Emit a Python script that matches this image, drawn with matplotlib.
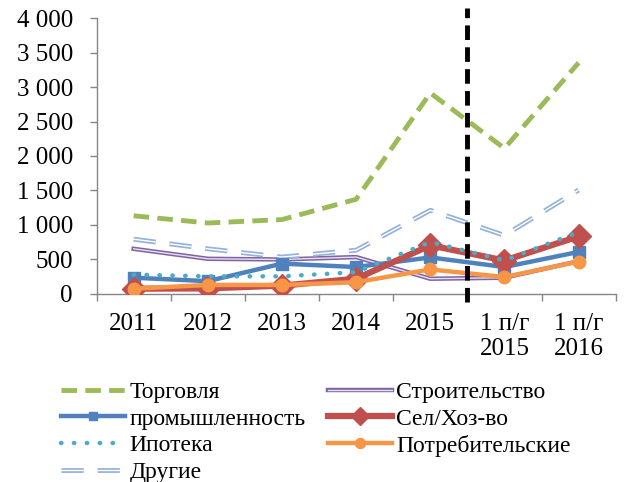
import matplotlib
matplotlib.use("Agg")
import matplotlib.pyplot as plt
import matplotlib.patheffects as pe
from matplotlib.ticker import FixedLocator, FuncFormatter

plt.rcParams['font.family'] = ['Liberation Serif', 'DejaVu Serif']

categories = ['2011', '2012', '2013', '2014', '2015', '1 п/г\n2015', '1 п/г\n2016']
torgovlya = [1130, 1025, 1075, 1370, 2915, 2110, 3355]
stroitelstvo = [650, 505, 495, 530, 215, 230, 470]
promyshlennost = [230, 180, 435, 385, 525, 385, 605]
selhoz = [70, 75, 115, 215, 700, 480, 830]
ipoteka = [275, 250, 250, 310, 750, 480, 895]
potreb = [70, 125, 125, 165, 350, 240, 465]
drugie = [790, 650, 530, 630, 1210, 845, 1505]
y_ticks = [0, 500, 1000, 1500, 2000, 2500, 3000, 3500, 4000]
divider_pos = 4.5

fig = plt.figure(figsize=(6.27, 4.82), dpi=100)
ax = fig.add_axes([0.154, 0.391, 0.828, 0.571])
x = list(range(len(categories)))

ax.plot(x, torgovlya, color='#9BBB59', lw=3.5, linestyle=(0, (3.2, 1.7)),
        label='Торговля', zorder=3)
ax.plot(x, stroitelstvo, color='#E6DFEE', lw=1.0, label='Строительство', zorder=3,
        path_effects=[pe.Stroke(linewidth=3.2, foreground='#8064A2'), pe.Normal()])
ax.plot(x, promyshlennost, color='#4F81BD', lw=3.2, marker='s', markersize=8,
        label='промышленность', zorder=4)
ax.plot(x, selhoz, color='#C0504D', lw=4.5, marker='D', markersize=12,
        label='Сел/Хоз-во', zorder=5)
ax.plot(x, ipoteka, color='#4BACC6', lw=3.2, linestyle=(0, (0.1, 2.8)),
        dash_capstyle='round', label='Ипотека', zorder=6)
ax.plot(x, potreb, color='#F79646', lw=3.2, marker='o', markersize=9,
        label='Потребительские', zorder=7)
ax.plot(x, drugie, color='#FFFFFF', lw=1.0, linestyle=(0, (16, 10)),
        label='Другие', zorder=3,
        path_effects=[pe.Stroke(linewidth=3.5, foreground='#95B3D7'), pe.Normal()])

ax.plot([divider_pos, divider_pos], [-120, 4150], color='black', lw=3.5,
        linestyle=(0, (3, 1.5)), clip_on=False, zorder=8)

ax.set_xlim(-0.5, len(categories) - 0.5)
ax.set_ylim(0, 4000)
ax.yaxis.set_major_locator(FixedLocator(y_ticks))
ax.yaxis.set_major_formatter(FuncFormatter(lambda v, p: f"{int(v):,}".replace(',', ' ')))
ax.set_xticks(x)
ax.set_xticklabels(categories)
ax.xaxis.set_minor_locator(FixedLocator([i - 0.5 for i in range(len(categories) + 1)]))
ax.tick_params(axis='x', which='major', length=0, pad=14, labelsize=18)
ax.tick_params(axis='x', which='minor', length=5, width=1, color='#868686', direction='out')
ax.tick_params(axis='y', length=5, width=1, color='#868686', pad=12, labelsize=18)

for s in ['top', 'right']:
    ax.spines[s].set_visible(False)
for s in ['left', 'bottom']:
    ax.spines[s].set_color('#868686')
    ax.spines[s].set_linewidth(1)

handles, labels = ax.get_legend_handles_labels()
order = [0, 2, 4, 6, 1, 3, 5]
leg = fig.legend([handles[i] for i in order], [labels[i] for i in order],
                 loc='upper left', bbox_to_anchor=(0.097, 0.209), ncol=2,
                 frameon=False, fontsize=17, handlelength=2.7, handletextpad=0.2,
                 labelspacing=0.22, columnspacing=0.95, borderaxespad=0, borderpad=0,
                 markerscale=0.8)

fig.savefig('out.png', dpi=100)
